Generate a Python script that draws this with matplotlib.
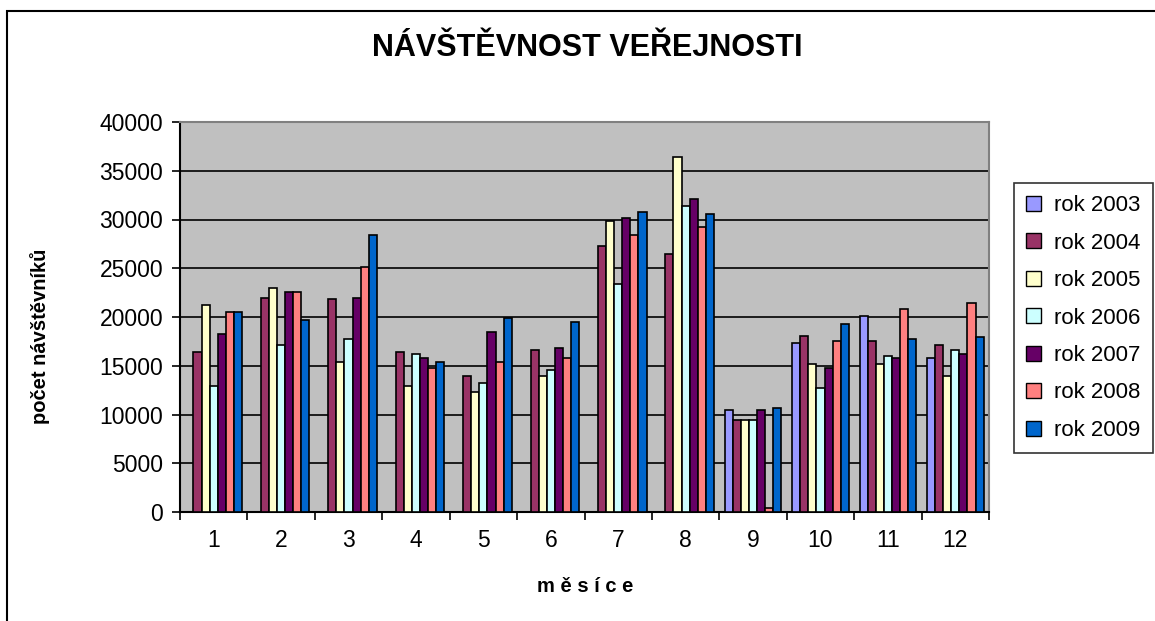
import matplotlib
matplotlib.use("Agg")
import matplotlib.pyplot as plt
from matplotlib.patches import Rectangle, Patch
import numpy as np

months = ["1", "2", "3", "4", "5", "6", "7", "8", "9", "10", "11", "12"]
years = ["rok 2003", "rok 2004", "rok 2005", "rok 2006", "rok 2007", "rok 2008", "rok 2009"]
v2003 = [0, 0, 0, 0, 0, 0, 0, 0, 10500, 17300, 20100, 15800]
v2004 = [16400, 22000, 21800, 16400, 14000, 16600, 27300, 26500, 9450, 18100, 17500, 17100]
v2005 = [21200, 23000, 15400, 12900, 12300, 14000, 29800, 36400, 9450, 15200, 15200, 14000]
v2006 = [12900, 17100, 17700, 16200, 13200, 14600, 23400, 31400, 9450, 12700, 16000, 16600]
v2007 = [18300, 22600, 22000, 15800, 18500, 16800, 30200, 32100, 10500, 14800, 15800, 16200]
v2008 = [20500, 22600, 25100, 14800, 15400, 15800, 28400, 29200, 400, 17500, 20800, 21400]
v2009 = [20500, 19700, 28400, 15400, 19900, 19500, 30800, 30600, 10700, 19300, 17700, 17900]
series = [v2003, v2004, v2005, v2006, v2007, v2008, v2009]
colors = ["#9999FF", "#993366", "#FFFFCC", "#CCFFFF", "#660066", "#FF8080", "#0066CC"]

plt.rcParams['font.family'] = ['Liberation Sans', 'DejaVu Sans']

fig = plt.figure(figsize=(11.55, 6.21), dpi=100)
fig.patch.set_facecolor("white")

# outer chart border
fig.patches.append(Rectangle((7/1155, -0.05), 1.2, (621-11)/621 + 0.05, transform=fig.transFigure,
                             fill=False, edgecolor="black", linewidth=1.5, zorder=0))

ax = fig.add_axes([180/1155, (621-512)/621, (989-180)/1155, (512-122)/621])
ax.set_facecolor("#C0C0C0")

x = np.arange(1, len(months) + 1)
n = len(series)
bw = 0.84 / n
for i, (vals, c) in enumerate(zip(series, colors)):
    ax.bar(x - 0.42 + bw * (i + 0.5), vals, width=bw, color=c, edgecolor="black",
           linewidth=1.2, zorder=3)

ax.set_xlim(0.5, 12.5)
ax.set_ylim(0, 40000)
ax.set_yticks(np.arange(0, 40001, 5000))
ax.set_yticklabels([str(v) for v in range(0, 40001, 5000)], fontsize=16.5)
ax.yaxis.grid(True, color="black", linewidth=1.2, zorder=1)
ax.set_axisbelow(True)

ax.set_xticks(np.arange(0.5, 12.6, 1.0))
ax.set_xticklabels([])
ax.set_xticks(x, minor=True)
ax.set_xticklabels(months, minor=True, fontsize=16.5)
ax.tick_params(axis="x", which="major", direction="out", length=6, width=1.2)
ax.tick_params(axis="x", which="minor", length=0, pad=12)
ax.tick_params(axis="y", direction="out", length=6, width=1.2, pad=6)

for s in ["left", "bottom"]:
    ax.spines[s].set_color("black")
    ax.spines[s].set_linewidth(1.5)
for s in ["top", "right"]:
    ax.spines[s].set_color("#808080")
    ax.spines[s].set_linewidth(1.5)

fig.text(587/1155, 1 - 48/621, "NÁVŠTĚVNOST VEŘEJNOSTI", ha="center", va="center",
         fontsize=22, fontweight="bold")
fig.text(40/1155, 1 - 336/621, "počet návštěvníků", ha="center", va="center",
         rotation=90, fontsize=14.5, fontweight="bold")
fig.text(585/1155, 1 - 586/621, "m ě s í c e", ha="center", va="center",
         fontsize=14.5, fontweight="bold")

handles = [Patch(facecolor=c, edgecolor="black", linewidth=1.0) for c in colors]
leg = fig.legend(handles, years, loc="upper left",
                 bbox_to_anchor=(1014/1155, 1 - 183/621), fontsize=16,
                 frameon=True, fancybox=False, edgecolor="black",
                 handlelength=0.65, handleheight=0.65, handletextpad=0.6,
                 labelspacing=0.74, borderpad=0.55, borderaxespad=0)
leg.get_frame().set_linewidth(1.2)

fig.savefig("out.png", dpi=100, facecolor="white")
